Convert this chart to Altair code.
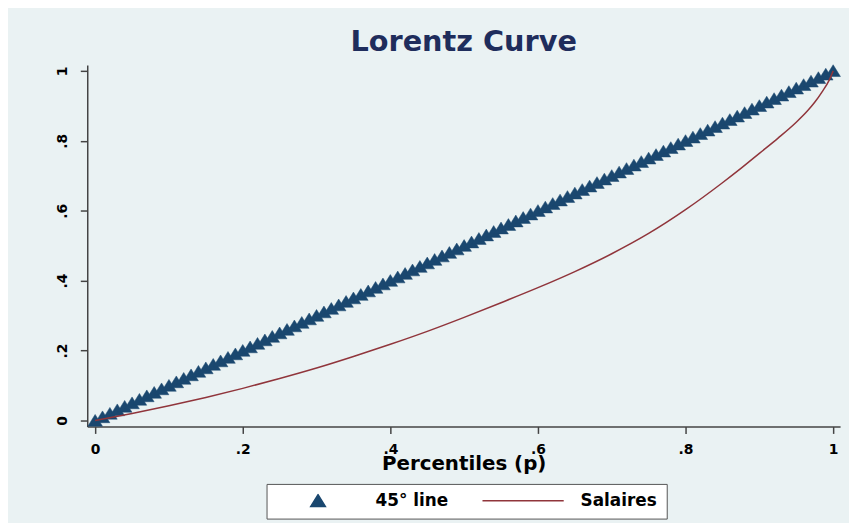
import altair as alt
import pandas as pd

# Percentile grid for the 45° reference line (one triangle per percentile)
percentiles = [
    0.00, 0.01, 0.02, 0.03, 0.04, 0.05, 0.06, 0.07, 0.08, 0.09,
    0.10, 0.11, 0.12, 0.13, 0.14, 0.15, 0.16, 0.17, 0.18, 0.19,
    0.20, 0.21, 0.22, 0.23, 0.24, 0.25, 0.26, 0.27, 0.28, 0.29,
    0.30, 0.31, 0.32, 0.33, 0.34, 0.35, 0.36, 0.37, 0.38, 0.39,
    0.40, 0.41, 0.42, 0.43, 0.44, 0.45, 0.46, 0.47, 0.48, 0.49,
    0.50, 0.51, 0.52, 0.53, 0.54, 0.55, 0.56, 0.57, 0.58, 0.59,
    0.60, 0.61, 0.62, 0.63, 0.64, 0.65, 0.66, 0.67, 0.68, 0.69,
    0.70, 0.71, 0.72, 0.73, 0.74, 0.75, 0.76, 0.77, 0.78, 0.79,
    0.80, 0.81, 0.82, 0.83, 0.84, 0.85, 0.86, 0.87, 0.88, 0.89,
    0.90, 0.91, 0.92, 0.93, 0.94, 0.95, 0.96, 0.97, 0.98, 0.99,
    1.00,
]

# Lorenz curve of "Salaires"
salaires_p = [0, 0.05, 0.1, 0.15, 0.2, 0.25, 0.3, 0.35, 0.4, 0.45, 0.5,
              0.55, 0.6, 0.65, 0.7, 0.75, 0.8, 0.85, 0.875, 0.9, 0.925, 0.95,
              0.965, 0.975, 0.985, 0.995, 1]
salaires_L = [0, 0.02, 0.042, 0.066, 0.092, 0.12, 0.15, 0.183, 0.218, 0.255, 0.295,
              0.337, 0.38, 0.426, 0.477, 0.535, 0.603, 0.68, 0.721, 0.764, 0.807, 0.853,
              0.885, 0.91, 0.94, 0.975, 1]

series_names = ["45° line", "Salaires"]
stroke_colors = ["#1a476f", "#90353b"]
fill_colors = ["#1a476f", "transparent"]
# triangle drawn small inside the unit symbol square, so that both legend
# entries share the same (wide) symbol box
legend_shapes = ["M0,-0.15L0.18,0.14L-0.18,0.14Z", "stroke"]
legend_sizes = [6724, 6724]
x_ticks = [0, 0.2, 0.4, 0.6, 0.8, 1]
y_ticks = [0, 0.2, 0.4, 0.6, 0.8, 1]

diag = pd.DataFrame({"p": percentiles, "L": percentiles, "series": series_names[0]})
sal = pd.DataFrame({"p": salaires_p, "L": salaires_L, "series": series_names[1]})

BG = "#EAF2F3"
FONT = "DejaVu Sans"
label_expr = ("datum.value == 0 || datum.value == 1 ? format(datum.value, 'd') "
              ": '.' + format(datum.value * 10, 'd')")

xscale = alt.Scale(domain=[-0.0107, 1.0094], nice=False, zero=False)
yscale = alt.Scale(domain=[-0.017, 1.017], nice=False, zero=False)

xaxis = alt.Axis(values=x_ticks, labelExpr=label_expr, grid=False, tickSize=7,
                 labelPadding=9, labelFontSize=14, labelFontWeight="bold",
                 labelFont=FONT, labelColor="#000000", domainColor="#444444",
                 tickColor="#444444", domainWidth=1.5, tickWidth=1.5,
                 title="Percentiles (p)", titleFont=FONT, titleFontSize=20,
                 titleFontWeight="bold", titleColor="#000000",
                 titleY=43, titleBaseline="alphabetic")
yaxis = alt.Axis(values=y_ticks, labelExpr=label_expr, grid=False, tickSize=7,
                 labelPadding=11, labelFontSize=14, labelFontWeight="bold",
                 labelFont=FONT, labelColor="#000000", domainColor="#444444",
                 tickColor="#444444", domainWidth=1.5, tickWidth=1.5,
                 labelAngle=270, labelAlign="center", labelBaseline="bottom",
                 title=None)

leg = alt.Legend(title=None)
stroke_enc = alt.Stroke("series:N", scale=alt.Scale(domain=series_names, range=stroke_colors), legend=leg)
fill_enc = alt.Fill("series:N", scale=alt.Scale(domain=series_names, range=fill_colors), legend=leg)
shape_enc = alt.Shape("series:N", scale=alt.Scale(domain=series_names, range=legend_shapes), legend=leg)
size_enc = alt.Size("series:N", scale=alt.Scale(domain=series_names, range=legend_sizes), legend=leg)

points = alt.Chart(diag).mark_point(filled=True, opacity=1, strokeWidth=0.5).encode(
    x=alt.X("p:Q", scale=xscale, axis=xaxis),
    y=alt.Y("L:Q", scale=yscale, axis=yaxis),
    stroke=stroke_enc,
    fill=fill_enc,
    shape=shape_enc,
    size=size_enc,
)

line = alt.Chart(sal).mark_line(strokeWidth=1.5, interpolate="monotone").encode(
    x=alt.X("p:Q", scale=xscale, axis=xaxis),
    y=alt.Y("L:Q", scale=yscale, axis=yaxis),
    stroke=stroke_enc,
)

chart = alt.layer(points, line).properties(
    width=760, height=365,
    title=alt.TitleParams("Lorentz Curve", font=FONT, fontSize=29, fontWeight="bold",
                          color="#1f2d5c", anchor="middle", offset=7),
    autosize=alt.AutoSizeParams(type="none"),
    padding={"left": 80, "top": 55, "right": 9, "bottom": 95},
    background=BG,
).configure_view(stroke=None, fill=BG).configure_legend(
    orient="none", legendX=181, legendY=423, direction="horizontal",
    fillColor="#FFFFFF", strokeColor="#555555", padding=10,
    labelFont=FONT, labelFontSize=17, labelFontWeight="bold", labelColor="#000000",
    clipHeight=14, columnPadding=33, labelOffset=16,
    symbolStrokeWidth=1.5, symbolOpacity=1,
)

chart.save("out.html", embed_options={"renderer": "svg", "actions": False})
